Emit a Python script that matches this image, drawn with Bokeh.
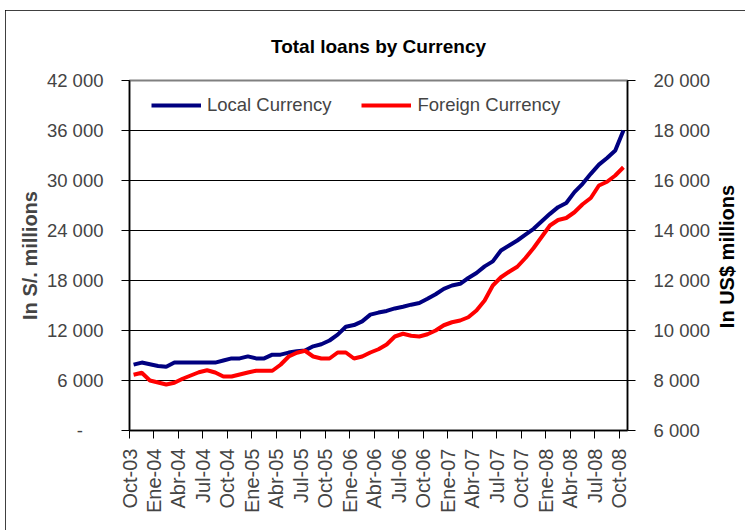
import math
from bokeh.plotting import figure
from bokeh.models import (LinearAxis, Range1d, FixedTicker, Legend, LegendItem, Label)
from bokeh.embed import file_html
from bokeh.resources import INLINE

# ---- data (monthly, Oct-03 .. Oct-08) ----
local_currency = [7900, 8150, 7950, 7750, 7650, 8150, 8150, 8150, 8150, 8150,
                  8150, 8400, 8650, 8650, 8900, 8650, 8650, 9100, 9100, 9350,
                  9500, 9600, 10100, 10350, 10800, 11500, 12450, 12650, 13100, 13900,
                  14150, 14350, 14650, 14850, 15100, 15300, 15800, 16350, 17000, 17400,
                  17600, 18300, 18900, 19700, 20300, 21600, 22200, 22800, 23500, 24200,
                  25100, 26000, 26800, 27300, 28600, 29600, 30800, 31900, 32700, 33600,
                  36000]
foreign_currency = [8230, 8310, 8000, 7920, 7840, 7910, 8070, 8200, 8330, 8410,
                    8320, 8160, 8160, 8240, 8320, 8390, 8390, 8390, 8630, 8960,
                    9110, 9190, 8960, 8880, 8880, 9120, 9120, 8880, 8960, 9120,
                    9250, 9440, 9760, 9870, 9790, 9760, 9850, 10000, 10210, 10330,
                    10400, 10530, 10800, 11200, 11800, 12130, 12350, 12550, 12900, 13300,
                    13750, 14200, 14420, 14500, 14730, 15050, 15300, 15800, 15950, 16200,
                    16530]
x_tick_labels = ["Oct-03", "Ene-04", "Abr-04", "Jul-04", "Oct-04", "Ene-05", "Abr-05",
                 "Jul-05", "Oct-05", "Ene-06", "Abr-06", "Jul-06", "Oct-06", "Ene-07",
                 "Abr-07", "Jul-07", "Oct-07", "Ene-08", "Abr-08", "Jul-08", "Oct-08"]
left_ticks = [0, 6000, 12000, 18000, 24000, 30000, 36000, 42000]
left_tick_labels = ["-\u00a0\u00a0\u00a0\u00a0", "6 000", "12 000", "18 000",
                    "24 000", "30 000", "36 000", "42 000"]
right_ticks = [6000, 8000, 10000, 12000, 14000, 16000, 18000, 20000]
right_tick_labels = ["6 000", "8 000", "10 000", "12 000", "14 000", "16 000", "18 000", "20 000"]

FONT = "Liberation Sans"

n = len(local_currency)
x_pos = [i + 0.5 for i in range(n)]
x_tick_pos = list(range(0, n, 3))

p = figure(width=740, height=520,
           x_range=Range1d(0, n), y_range=Range1d(left_ticks[0], left_ticks[-1]),
           output_backend="svg", toolbar_location=None,
           min_border_left=124, min_border_right=118,
           min_border_top=70, min_border_bottom=100,
           title="Total loans by Currency")
p.styles = {"outline": "1px solid black", "outline-offset": "-1px",
            "margin-left": "5px", "margin-top": "10px"}

p.title.align = "center"
p.title.vertical_align = "top"
p.title.text_font = FONT
p.title.text_font_style = "bold"
p.title.text_font_size = "19px"
p.title.text_color = "#000000"
p.title.standoff = 44

p.extra_y_ranges = {"usd": Range1d(right_ticks[0], right_ticks[-1])}

# grid
p.xgrid.visible = False
p.ygrid.ticker = FixedTicker(ticks=left_ticks[1:-1])
p.ygrid.grid_line_color = "black"
p.ygrid.grid_line_width = 1
p.outline_line_color = "#808080"
p.outline_line_width = 2

# left axis
ya = p.yaxis[0]
ya.ticker = FixedTicker(ticks=left_ticks)
ya.major_label_overrides = dict(zip(left_ticks, left_tick_labels))
ya.axis_label = "In S/. millions"
ya.axis_label_text_font = FONT
ya.axis_label_text_font_style = "bold"
ya.axis_label_text_font_size = "20px"
ya.axis_label_standoff = 3
ya.major_label_text_font = FONT
ya.major_label_text_font_size = "18.5px"
ya.major_label_standoff = 18
ya.major_tick_in = 0
ya.major_tick_out = 8
ya.minor_tick_out = 0
ya.minor_tick_in = 0
ya.axis_line_color = "black"
ya.axis_line_width = 1.5
ya.major_tick_line_color = "black"

# right axis
ra = LinearAxis(y_range_name="usd")
ra.ticker = FixedTicker(ticks=right_ticks)
ra.major_label_overrides = dict(zip(right_ticks, right_tick_labels))
ra.major_label_text_font = FONT
ra.major_label_text_font_size = "18.5px"
ra.major_label_standoff = 18
ra.major_tick_in = 0
ra.major_tick_out = 8
ra.minor_tick_out = 0
ra.minor_tick_in = 0
ra.axis_line_color = "black"
ra.axis_line_width = 1.5
p.add_layout(ra, "right")

# right axis title (reads bottom to top), placed in the right side panel
right_title = Label(x=13, y=174, x_units="screen", y_units="screen",
                    text="In US$ millions", angle=math.pi / 2,
                    text_align="center", text_baseline="middle",
                    text_font=FONT, text_font_style="bold",
                    text_font_size="20px", text_color="#000000")
p.add_layout(right_title, "right")

# bottom axis
xa = p.xaxis[0]
xa.ticker = FixedTicker(ticks=x_tick_pos)
xa.major_label_overrides = dict(zip(x_tick_pos, x_tick_labels))
xa.major_label_orientation = math.pi / 2
xa.major_label_text_font = FONT
xa.major_label_text_font_size = "20px"
xa.major_label_standoff = 10
xa.major_tick_in = 0
xa.major_tick_out = 8
xa.minor_tick_out = 0
xa.minor_tick_in = 0
xa.axis_line_color = "black"
xa.axis_line_width = 1.5

r1 = p.line(x_pos, local_currency, line_color="#000080", line_width=4)
r2 = p.line(x_pos, foreign_currency, line_color="#FF0000", line_width=4,
            y_range_name="usd")

legend = Legend(items=[LegendItem(label="Local Currency", renderers=[r1]),
                       LegendItem(label="Foreign Currency", renderers=[r2])],
                orientation="horizontal", location=(22, 314),
                glyph_width=50, glyph_height=20, label_height=20,
                label_standoff=6, spacing=30, padding=0, margin=0,
                border_line_color=None, background_fill_alpha=0,
                label_text_font=FONT, label_text_font_size="18.5px")
p.add_layout(legend)

open("out.html", "w").write(file_html(p, INLINE))
